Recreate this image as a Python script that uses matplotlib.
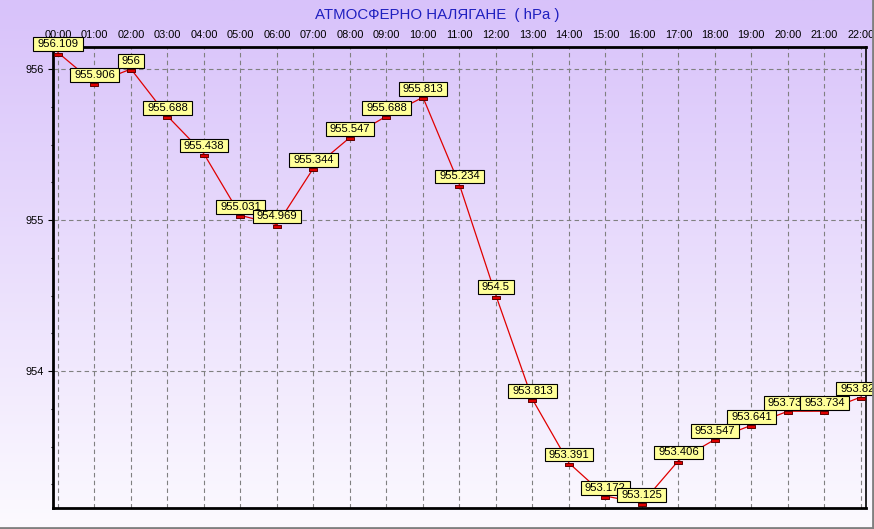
import numpy as np
import matplotlib
matplotlib.use("Agg")
import matplotlib.pyplot as plt
from matplotlib.lines import Line2D
from matplotlib.path import Path

plt.rcParams['font.family'] = ['Liberation Sans', 'DejaVu Sans']

# data
hours = ["00:00", "01:00", "02:00", "03:00", "04:00", "05:00", "06:00", "07:00",
         "08:00", "09:00", "10:00", "11:00", "12:00", "13:00", "14:00", "15:00",
         "16:00", "17:00", "18:00", "19:00", "20:00", "21:00", "22:00"]
pressure = [956.109, 955.906, 956, 955.688, 955.438, 955.031, 954.969, 955.344,
            955.547, 955.688, 955.813, 955.234, 954.5, 953.813, 953.391, 953.172,
            953.125, 953.406, 953.547, 953.641, 953.734, 953.734, 953.828]
labels = ["956.109", "955.906", "956", "955.688", "955.438", "955.031", "954.969",
          "955.344", "955.547", "955.688", "955.813", "955.234", "954.5", "953.813",
          "953.391", "953.172", "953.125", "953.406", "953.547", "953.641",
          "953.734", "953.734", "953.828"]
y_ticks = [954, 955, 956]

W, H = 874, 529
fig = plt.figure(figsize=(W / 100, H / 100), dpi=100)

# background gradient (purple top -> white bottom)
bg = fig.add_axes([0, 0, 1, 1], zorder=-10)
top = np.array([216, 194, 250]) / 255
bot = np.array([252, 250, 255]) / 255
t = np.linspace(0, 1, 256)[:, None]
grad = top * (1 - t) + bot * t
bg.imshow(grad[:, None, :], aspect='auto', extent=[0, 1, 0, 1])
bg.set_xlim(0, 1)
bg.set_ylim(0, 1)
bg.axis('off')
# grey frame on bottom / right
fig.add_artist(Line2D([0, 1], [1.5 / H, 1.5 / H], color='#808080', lw=2, transform=fig.transFigure))
fig.add_artist(Line2D([1 - 1.5 / W, 1 - 1.5 / W], [0, 1], color='#808080', lw=2, transform=fig.transFigure))

x0, x1, y0, y1 = 53, 866, 47, 508
ax = fig.add_axes([x0 / W, 1 - y1 / H, (x1 - x0) / W, (y1 - y0) / H])
ax.patch.set_alpha(0)


def label_box(x0, y0, width, height, mutation_size):
    # wide box like the original labels
    px = 0.36 * mutation_size
    py = 0.16 * mutation_size
    xa, xb, ya, yb = x0 - px, x0 + width + px, y0 - py, y0 + height + py
    return Path([(xa, ya), (xb, ya), (xb, yb), (xa, yb), (xa, ya)], closed=True)


x = np.arange(len(hours))
rect = [(-1, 0.05), (1, 0.05), (1, -0.85), (-1, -0.85), (-1, 0.05)]
ax.plot(x, pressure, color='#e00000', lw=0.9, zorder=3)
ax.plot(x, pressure, ls='none', marker=rect, ms=5.8, mfc='#e00000',
        mec='#600000', mew=0.7, zorder=4)

for xi, yi, lab in zip(x, pressure, labels):
    ax.annotate(lab, (xi, yi), xytext=(0, 2.4), textcoords='offset points',
                ha='center', va='bottom', fontsize=8.1, color='black',
                bbox=dict(boxstyle=label_box, fc='#ffff99', ec='black', lw=0.8),
                annotation_clip=False, zorder=5)

ax.set_xlim(-0.137, 22.14)
ax.set_ylim(953.093, 956.146)
ax.set_xticks(x)
ax.set_xticklabels(hours)
ax.xaxis.tick_top()
ax.tick_params(axis='x', length=0, pad=5, labelsize=7.9)
ax.set_yticks(y_ticks)
ax.set_yticklabels([str(v) for v in y_ticks])
ax.set_yticks(np.arange(953.25, 956.1, 0.25), minor=True)
ax.tick_params(axis='y', which='major', length=3.6, width=0.8, labelsize=7.9, pad=3)
ax.tick_params(axis='y', which='minor', length=1.5, width=0.8)
ax.grid(True, color='#808080', ls=(0, (4, 3)), lw=0.8)
for s in ax.spines.values():
    s.set_linewidth(2)
    s.set_color('black')
ax.spines['right'].set_linewidth(1.2)

fig.text(437 / W, 1 - 15 / H, "АТМОСФЕРНО НАЛЯГАНЕ  ( hPa )", ha='center', va='center',
         fontsize=10.8, color='#2020c0')

fig.savefig("out.png", dpi=100)
